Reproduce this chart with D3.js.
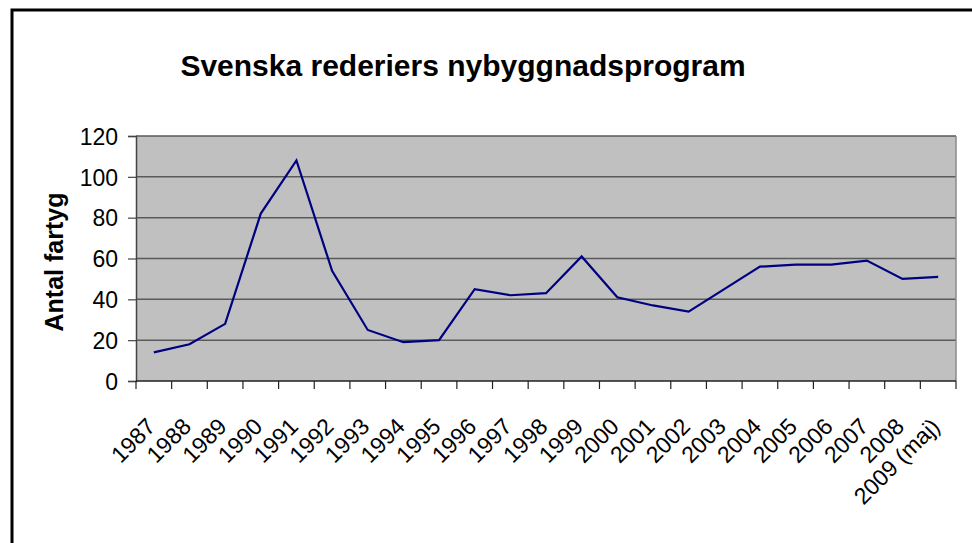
<!DOCTYPE html>
<html>
  <head>
    <script src="https://d3js.org/d3.v7.min.js" charset="utf-8"></script>
    <meta charset="UTF-8">
    <title>Svenska rederiers nybyggnadsprogram</title>
    <style>
      body { margin: 0; background: #fff; }
      text { font-family: "Liberation Sans", Arial, sans-serif; fill: #000; }
    </style>
  </head>
  <body>
    <svg class="chart"></svg>
    <script type="text/javascript">

      var categories = ["1987", "1988", "1989", "1990", "1991", "1992", "1993", "1994",
                        "1995", "1996", "1997", "1998", "1999", "2000", "2001", "2002",
                        "2003", "2004", "2005", "2006", "2007", "2008", "2009 (maj)"];
      var values = [14, 18, 28, 82, 108, 54, 25, 19, 20, 45, 42, 43, 61, 41, 37, 34,
                    45, 56, 57, 57, 59, 50, 51];
      var yTicks = [0, 20, 40, 60, 80, 100, 120];

      var width = 972,
          height = 543,
          plotLeft = 136, plotRight = 956,
          plotTop = 136, plotBottom = 381;

      var chart = d3.select(".chart")
          .attr("width", width)
          .attr("height", height);

      // outer frame (runs off the right and bottom edge)
      chart.append("rect")
          .attr("x", 12).attr("y", 10)
          .attr("width", 980).attr("height", 560)
          .attr("fill", "#fff")
          .attr("stroke", "#000")
          .attr("stroke-width", 3);

      chart.append("text")
          .attr("x", 463).attr("y", 76)
          .attr("text-anchor", "middle")
          .style("font-size", "30px")
          .style("font-weight", "bold")
          .text("Svenska rederiers nybyggnadsprogram");

      var x = d3.scaleBand().domain(categories).range([plotLeft, plotRight]);
      var y = d3.scaleLinear().domain([0, 120]).range([plotBottom, plotTop]);

      chart.append("rect")
          .attr("x", plotLeft).attr("y", plotTop)
          .attr("width", plotRight - plotLeft).attr("height", plotBottom - plotTop)
          .attr("fill", "#c0c0c0");

      // grid
      chart.append("g")
          .selectAll("line")
          .data(yTicks.filter(function(d) { return d > 0; }))
          .enter().append("line")
          .attr("x1", plotLeft).attr("x2", plotRight)
          .attr("y1", function(d) { return y(d); })
          .attr("y2", function(d) { return y(d); })
          .attr("stroke", "#5a5a5a")
          .attr("stroke-width", 1.5);

      chart.append("line")
          .attr("x1", plotRight).attr("x2", plotRight)
          .attr("y1", plotTop).attr("y2", plotBottom)
          .attr("stroke", "#8a8a8a").attr("stroke-width", 1.5);

      // y axis
      var yAxis = chart.append("g")
          .attr("transform", "translate(" + plotLeft + ",0)")
          .call(d3.axisLeft(y).tickValues(yTicks).tickSize(8).tickPadding(10));
      yAxis.select(".domain").attr("stroke", "#444").attr("stroke-width", 1.5);
      yAxis.selectAll(".tick line").attr("stroke", "#444").attr("stroke-width", 1.2);
      yAxis.selectAll("text")
          .style("font-size", "23px")
          .style("font-family", "'Liberation Sans', Arial, sans-serif")
          .attr("dy", "0.36em");

      // x axis: ticks on band edges, labels at band centres
      var edges = categories.map(function(c) { return x(c); }).concat([plotRight]);
      chart.append("g")
          .selectAll("line")
          .data(edges)
          .enter().append("line")
          .attr("x1", function(d) { return d; })
          .attr("x2", function(d) { return d; })
          .attr("y1", plotBottom).attr("y2", plotBottom + 8)
          .attr("stroke", "#222").attr("stroke-width", 1.2);

      chart.append("line")
          .attr("x1", plotLeft).attr("x2", plotRight)
          .attr("y1", plotBottom).attr("y2", plotBottom)
          .attr("stroke", "#222").attr("stroke-width", 1.5);

      chart.append("g")
          .selectAll("text")
          .data(categories)
          .enter().append("text")
          .attr("text-anchor", "end")
          .style("font-size", "23px")
          .attr("transform", function(d) {
              return "translate(" + (x(d) + x.bandwidth() / 2 + 3) + "," + (plotBottom + 47) + ") rotate(-45)";
          })
          .text(function(d) { return d; });

      chart.append("text")
          .attr("transform", "translate(63,262) rotate(-90)")
          .attr("text-anchor", "middle")
          .style("font-size", "25px")
          .style("font-weight", "bold")
          .text("Antal fartyg");

      var line = d3.line()
          .x(function(d, i) { return x(categories[i]) + x.bandwidth() / 2; })
          .y(function(d) { return y(d); });

      chart.append("path")
          .datum(values)
          .attr("d", line)
          .attr("fill", "none")
          .attr("stroke", "#000080")
          .attr("stroke-width", 2.2);

    </script>
  </body>
</html>
